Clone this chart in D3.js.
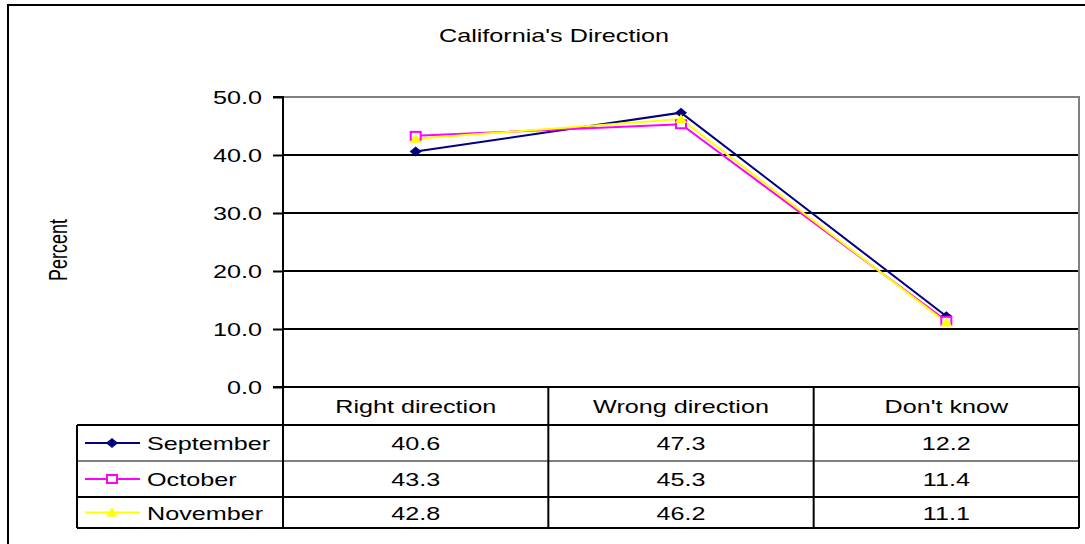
<!DOCTYPE html>
<html>
<head>
<meta charset="utf-8">
<script src="https://cdn.jsdelivr.net/npm/d3@7"></script>
<style>
    body { margin: 0; background: #fff; }
    svg { display: block; font-family: "Liberation Sans", Arial, sans-serif; }
</style>
</head>
<body>
<svg id="chart" width="1085" height="544"></svg>
<script>
const categories = ["Right direction", "Wrong direction", "Don't know"];
const months = ["September", "October", "November"];
const september = [40.6, 47.3, 12.2];
const october = [43.3, 45.3, 11.4];
const november = [42.8, 46.2, 11.1];
const yTicks = [0, 10, 20, 30, 40, 50];

const series = [
    { name: months[0], values: september, color: "#000080", shape: "diamond" },
    { name: months[1], values: october, color: "#ff00ff", shape: "square" },
    { name: months[2], values: november, color: "#ffff00", shape: "triangle" }
];

// the original picture is stretched sideways, so text gets a wider scale
const SX = 1.4;
const FONT = "18px";

const svg = d3.select("#chart");

const plot = { left: 283, right: 1079, top: 97, bottom: 387 };
const tableLeft = 77;
const rowLines = [387, 425, 461, 497, 528];

const x = d3.scaleBand()
    .domain(categories)
    .range([plot.left, plot.right])
    .padding(0);

const y = d3.scaleLinear()
    .domain([0, 50])
    .range([plot.bottom, plot.top]);

function label(g, tx, ty, str, anchor, extra) {
    return g.append("text")
        .attr("transform", `translate(${tx},${ty}) scale(${SX},1)` + (extra || ""))
        .attr("text-anchor", anchor || "middle")
        .style("font-size", FONT)
        .attr("fill", "#000")
        .text(str);
}

// outer chart frame
svg.append("rect")
    .attr("x", 8).attr("y", 5)
    .attr("width", 1100).attr("height", 560)
    .attr("fill", "none")
    .attr("stroke", "#000")
    .attr("stroke-width", 2);

label(svg, 554, 42, "California's Direction");

// gridlines
svg.append("g")
    .selectAll("line")
    .data(yTicks.filter(d => d > 0 && d < 50))
    .join("line")
    .attr("x1", plot.left).attr("x2", plot.right)
    .attr("y1", d => y(d)).attr("y2", d => y(d))
    .attr("stroke", "#000")
    .attr("stroke-width", 2);

// plot area border (grey top & right)
svg.append("path")
    .attr("d", `M${plot.left},${y(50)}H${plot.right}V${plot.bottom}`)
    .attr("fill", "none")
    .attr("stroke", "#808080")
    .attr("stroke-width", 2);

const yAxis = svg.append("g")
    .attr("transform", `translate(${plot.left},0)`)
    .call(d3.axisLeft(y).tickValues(yTicks).tickFormat(d3.format(".1f")).tickSize(10));
yAxis.select(".domain").attr("stroke", "#000").attr("stroke-width", 2).attr("d", `M-10,${y(50)}H0V${plot.bottom}H-10`);
yAxis.selectAll(".tick line").attr("stroke", "#000").attr("stroke-width", 2);
yAxis.selectAll(".tick text")
    .attr("x", null)
    .attr("dy", "0.35em")
    .attr("transform", `translate(-21,0) scale(${SX},1)`)
    .attr("fill", "#000")
    .style("font-size", FONT)
    .style("font-family", "'Liberation Sans', Arial, sans-serif");

svg.append("text")
    .attr("transform", `translate(67,250) scale(${SX},1) rotate(-90)`)
    .attr("text-anchor", "middle")
    .style("font-size", FONT)
    .text("Percent");

// series lines
const line = d3.line()
    .x((d, i) => x(categories[i]) + x.bandwidth() / 2)
    .y(d => y(d));

function marker(g, shape, color, cx, cy) {
    if (shape === "diamond") {
        g.append("path")
            .attr("d", `M${cx},${cy - 5}L${cx + 6},${cy}L${cx},${cy + 5}L${cx - 6},${cy}Z`)
            .attr("fill", color);
    } else if (shape === "square") {
        g.append("rect")
            .attr("x", cx - 5).attr("y", cy - 4)
            .attr("width", 10).attr("height", 8)
            .attr("fill", "#fff")
            .attr("stroke", color)
            .attr("stroke-width", 2);
    } else {
        g.append("path")
            .attr("d", `M${cx},${cy - 5}L${cx + 6},${cy + 4}L${cx - 6},${cy + 4}Z`)
            .attr("fill", color);
    }
}

series.forEach(s => {
    svg.append("path")
        .datum(s.values)
        .attr("d", line)
        .attr("fill", "none")
        .attr("stroke", s.color)
        .attr("stroke-width", 2);
});
series.forEach(s => {
    const g = svg.append("g");
    s.values.forEach((v, i) => marker(g, s.shape, s.color, x(categories[i]) + x.bandwidth() / 2, y(v)));
});

// data table
const table = svg.append("g");
table.append("line")
    .attr("x1", plot.left).attr("x2", plot.right)
    .attr("y1", rowLines[0]).attr("y2", rowLines[0])
    .attr("stroke", "#000").attr("stroke-width", 2);
rowLines.slice(1).forEach((ry, i) => {
    table.append("line")
        .attr("x1", tableLeft).attr("x2", plot.right)
        .attr("y1", ry).attr("y2", ry)
        .attr("stroke", "#000").attr("stroke-width", i === 1 ? 1 : 2);
});
table.append("line")
    .attr("x1", tableLeft).attr("x2", tableLeft)
    .attr("y1", rowLines[1]).attr("y2", rowLines[4])
    .attr("stroke", "#000").attr("stroke-width", 2);
[plot.left, ...categories.map(c => x(c) + x.bandwidth())].forEach(vx => {
    table.append("line")
        .attr("x1", vx).attr("x2", vx)
        .attr("y1", rowLines[0]).attr("y2", rowLines[4])
        .attr("stroke", "#000").attr("stroke-width", 2);
});

categories.forEach(c => {
    label(table, x(c) + x.bandwidth() / 2, (rowLines[0] + rowLines[1]) / 2 + 7, c);
});

series.forEach((s, r) => {
    const cy = (rowLines[r + 1] + rowLines[r + 2]) / 2;
    table.append("line")
        .attr("x1", 85).attr("x2", 140)
        .attr("y1", cy).attr("y2", cy)
        .attr("stroke", s.color).attr("stroke-width", 2);
    marker(table, s.shape, s.color, 112, cy);
    label(table, 147, cy + 7, s.name, "start");
    s.values.forEach((v, i) => {
        label(table, x(categories[i]) + x.bandwidth() / 2, cy + 7, d3.format(".1f")(v));
    });
});
</script>
</body>
</html>
